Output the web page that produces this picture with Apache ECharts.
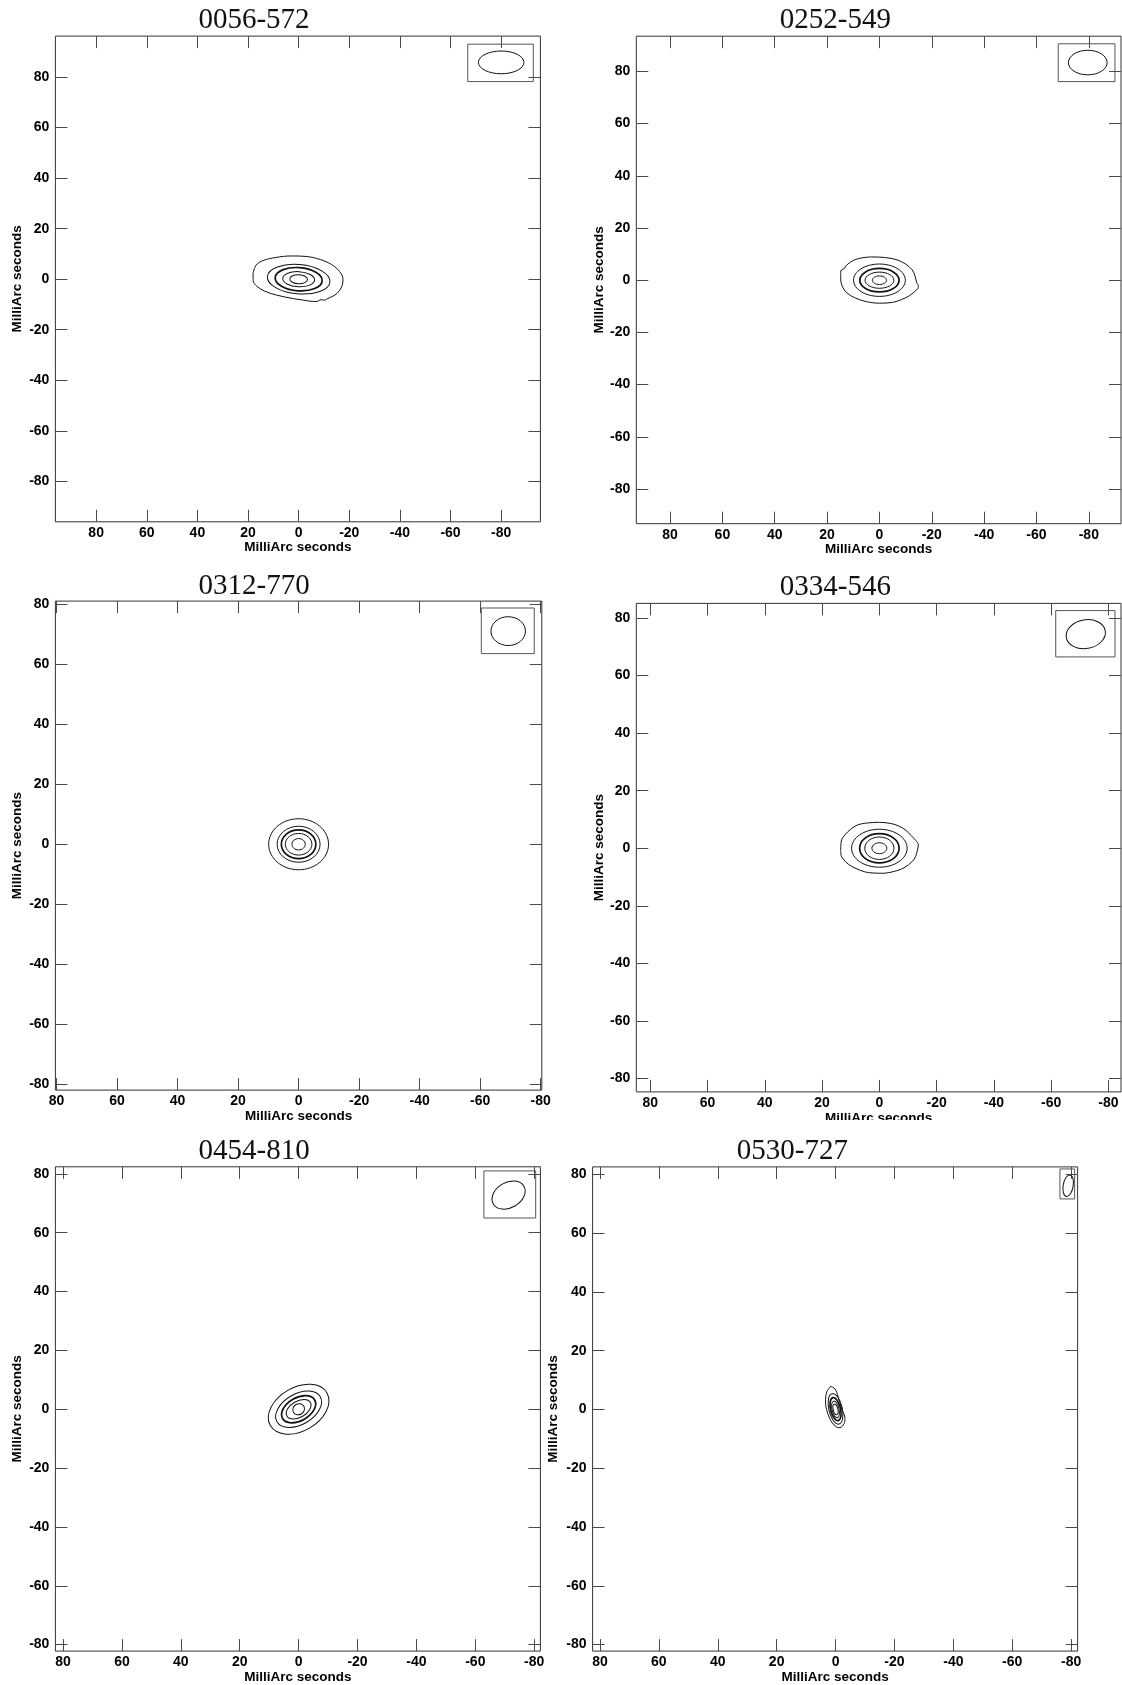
<!DOCTYPE html>
<html>
<head>
<meta charset="utf-8">
<script src="https://cdn.jsdelivr.net/npm/echarts@6/dist/echarts.min.js"></script>
<style>
  html, body { margin: 0; padding: 0; background: #ffffff; }
  #chart { width: 1122px; height: 1685px; }
</style>
</head>
<body>
<div id="chart"></div>
<script>
// Source names, one per map panel
const sources = ['0056-572', '0252-549', '0312-770', '0334-546', '0454-810', '0530-727'];

// Tick positions on both axes (milliarcseconds)
const tickValues = [-80, -60, -40, -20, 0, 20, 40, 60, 80];

// Visible map extent per panel: [xmin, xmax, ymin, ymax] (mas)
const extents = [
  [-95.5, 96.1, -96.0, 96.2],
  [-92.3, 92.9, -93.3, 93.5],
  [-80.4, 80.4, -81.9, 81.0],
  [-84.4, 84.9, -84.7, 85.1],
  [-82.1, 82.6, -82.2, 82.4],
  [-82.2, 82.5, -82.2, 82.5]
];

// Elliptical contours: [level, x0, y0, semi-major, semi-minor, PA(deg)]
const contours0056 = [
  [2, 0, 0, 12.4, 5.8, 85],
  [3, 0, 0, 9.3, 4.6, 86],
  [4, 0, 0, 6.3, 3.0, 87],
  [5, 0, 0, 3.5, 1.8, 88]
];
const contours0252 = [
  [2, 0, 0, 9.9, 6.2, 90],
  [3, 0, 0, 7.5, 4.5, 90],
  [4, 0, 0, 5.5, 3.1, 90],
  [5, 0, 0, 2.7, 1.65, 90]
];
const contours0312 = [
  [1, 0, 0, 9.9, 8.5, 90],
  [2, 0, 0, 7.1, 6.0, 90],
  [3, 0, 0, 5.7, 4.8, 90],
  [4, 0, 0, 4.4, 3.6, 90],
  [5, 0, 0, 2.2, 1.9, 90]
];
const contours0334 = [
  [2, 0, 0, 9.7, 6.6, 90],
  [3, 0, 0, 6.9, 5.1, 90],
  [4, 0, 0, 5.1, 3.9, 90],
  [5, 0, 0, 2.6, 1.9, 90]
];
const contours0454 = [
  [1, 0, 0, 11.1, 7.4, 120],
  [2, 0, 0, 8.5, 5.2, 120],
  [3, 0, 0, 6.3, 3.9, 120],
  [4, 0, 0, 4.6, 2.75, 120],
  [5, 0, 0, 2.05, 1.85, 120]
];
const contours0530 = [
  [2, 0, 0.2, 5.3, 2.3, 13],
  [3, 0, 0.1, 4.0, 1.7, 13],
  [4, 0, 0, 2.9, 1.2, 13],
  [5, 0, 0, 1.8, 0.8, 13]
];

// Irregular lowest contours traced as closed outlines: [x, y] (mas)
const outline0056 = [
  [18, 2.4], [16.8, 5.6], [14, 7.4], [9, 8.6], [3, 9.2], [-3, 9.0], [-8.5, 7.8],
  [-13, 5.8], [-16.2, 3], [-17.5, 0], [-17, -3], [-15.2, -5.6], [-13.2, -6.9],
  [-11.6, -7.6], [-10.2, -8.3], [-8.8, -8.1], [-7.2, -8.8], [-4.5, -8.7], [-1.5, -8.2],
  [2, -7.7], [8.7, -6.3], [13.5, -4.7], [16.5, -2.8], [18, -0.5], [18, 2.4]
];
const outline0252 = [
  [14.8, 2.5], [14.6, 3.9], [13.6, 4.3], [12.5, 5.8], [10.5, 7.3], [8, 8.3], [3, 8.9],
  [-2, 8.7], [-6.7, 7.8], [-10, 6.2], [-12.5, 4], [-13.6, 1.6], [-14.2, -0.8],
  [-14.9, -2.3], [-14.6, -3.3], [-13.4, -4.4], [-11.5, -5.9], [-8.5, -7.4], [-5, -8.5],
  [0, -8.8], [5, -8.2], [9.5, -6.7], [12.5, -4.8], [14.1, -2.5], [14.8, 0.5], [14.8, 2.5]
];
const outline0334 = [
  [13.5, -0.6], [13.3, 2.5], [12, 4.7], [10, 6.6], [7.6, 8.1], [4, 8.8], [0, 9.0],
  [-4, 8.6], [-6.8, 7.7], [-9.3, 6.2], [-11.1, 4.4], [-12.8, 2.6], [-13.6, 1.2],
  [-13.4, -0.3], [-13.1, -1.4], [-12.7, -2.8], [-11.5, -4.6], [-8.6, -6.8], [-5, -8.1],
  [-1.1, -8.7], [2.5, -8.6], [5.1, -8.2], [8.5, -6.9], [10.8, -5.6], [12.6, -3.8],
  [13.3, -2.7], [13.5, -0.6]
];
const outline0530 = [
  [1.7, 7.8], [3.0, 5.9], [3.4, 2.5], [2.8, -0.9], [1.3, -4.3], [-0.4, -6],
  [-1.5, -6.2], [-2.9, -4.8], [-3.2, -3.1], [-2.1, 0.2], [-0.9, 4.2], [0.2, 7.0], [1.7, 7.8]
];

// Restoring beams: [x0, y0, semi-major, semi-minor, PA(deg)]
const beams = [
  [-80.0, 85.8, 9.0, 4.5, 90],
  [-79.6, 83.4, 7.4, 4.7, 90],
  [-69.3, 71.0, 5.7, 4.8, 90],
  [-72.1, 74.4, 6.9, 5.0, 100],
  [-71.3, 72.8, 6.0, 4.3, 120],
  [-79.0, 76.1, 3.7, 1.7, 170]
];
// Frames drawn round the beams: [x1, y1, x2, y2]
const beamBoxes = [
  [-66.8, 93.0, -92.7, 78.2],
  [-68.3, 90.6, -90.0, 76.1],
  [-60.4, 78.7, -77.9, 63.5],
  [-61.6, 82.6, -82.3, 66.5],
  [-62.9, 81.0, -80.5, 65.0],
  [-76.2, 81.8, -81.2, 71.6]
];

const contourSets = [contours0056, contours0252, contours0312, contours0334, contours0454, contours0530];
const outlineSets = [outline0056, outline0252, null, outline0334, null, outline0530];

// Panel layout in page pixels
const panels = [
  { left: 55.4, top: 36.1, width: 485, height: 485.7, titleX: 254, titleY: 6, yNameGap: 31 },
  { left: 636.3, top: 36.2, width: 484.7, height: 487.5, titleX: 835.3, titleY: 6, yNameGap: 30 },
  { left: 55.4, top: 601.1, width: 486.4, height: 489, titleX: 254.1, titleY: 571.5, yNameGap: 31 },
  { left: 636.3, top: 603.4, width: 484.7, height: 488.5, titleX: 835.3, titleY: 573.3, yNameGap: 30 },
  { left: 55.4, top: 1166.8, width: 485, height: 485, titleX: 254.1, titleY: 1136.5, yNameGap: 31 },
  { left: 592.6, top: 1166.9, width: 485, height: 486.8, titleX: 792.4, titleY: 1136.6, yNameGap: 32 }
];

const FRAME = '#333333';
const TICK = '#4a4a4a';
const INK = '#111111';
const LABEL_FONT = '"Liberation Sans", Arial, Helvetica, sans-serif';

function ellipseRenderer(isBeam) {
  return function (params, api) {
    const o = isBeam ? 0 : 1;
    const c = api.coord([api.value(o), api.value(o + 1)]);
    const rx = api.size([api.value(o + 2), 0])[0];
    const ry = api.size([0, api.value(o + 3)])[1];
    const rot = (api.value(o + 4) - 90) * Math.PI / 180;
    const thick = !isBeam && api.value(0) === 3;
    return {
      type: 'ellipse',
      x: c[0], y: c[1], rotation: rot,
      shape: { cx: 0, cy: 0, rx: rx, ry: ry },
      style: { fill: 'none', stroke: INK, lineWidth: thick ? 1.7 : 1 }
    };
  };
}

function boxRenderer(params, api) {
  const p1 = api.coord([api.value(0), api.value(1)]);
  const p2 = api.coord([api.value(2), api.value(3)]);
  return {
    type: 'rect',
    shape: {
      x: Math.min(p1[0], p2[0]), y: Math.min(p1[1], p2[1]),
      width: Math.abs(p2[0] - p1[0]), height: Math.abs(p2[1] - p1[1])
    },
    style: { fill: 'none', stroke: '#555555', lineWidth: 1 }
  };
}

const grid = [], xAxis = [], yAxis = [], series = [], title = [];

panels.forEach(function (p, i) {
  const e = extents[i];
  grid.push({
    left: p.left, top: p.top, width: p.width, height: p.height,
    show: true, borderColor: FRAME, borderWidth: 1, backgroundColor: 'transparent'
  });

  const line = { show: false, onZero: false };
  const tick = { show: true, inside: true, length: 12, customValues: tickValues,
                 lineStyle: { color: TICK, width: 1 } };
  const xLabel = { show: true, customValues: tickValues, margin: 4, color: '#000000',
                   fontFamily: LABEL_FONT, fontWeight: 'bold', fontSize: 14 };
  const yLabel = { show: true, customValues: tickValues, margin: 6, color: '#000000',
                   fontFamily: LABEL_FONT, fontWeight: 'bold', fontSize: 14 };
  const nameStyle = { color: '#000000', fontFamily: LABEL_FONT, fontWeight: 'bold', fontSize: 13.5 };

  // bottom axis (labelled) and top axis (ticks only); east is to the left
  xAxis.push({
    gridIndex: i, type: 'value', inverse: true, min: e[0], max: e[1], position: 'bottom',
    axisLine: line, axisTick: tick, axisLabel: xLabel, splitLine: { show: false },
    name: 'MilliArc seconds', nameLocation: 'middle', nameGap: 17, nameTextStyle: nameStyle
  });
  xAxis.push({
    gridIndex: i, type: 'value', inverse: true, min: e[0], max: e[1], position: 'top',
    axisLine: line, axisTick: tick, axisLabel: { show: false }, splitLine: { show: false }
  });
  yAxis.push({
    gridIndex: i, type: 'value', min: e[2], max: e[3], position: 'left',
    axisLine: line, axisTick: tick, axisLabel: yLabel, splitLine: { show: false },
    name: 'MilliArc seconds', nameLocation: 'middle', nameGap: p.yNameGap, nameTextStyle: nameStyle
  });
  yAxis.push({
    gridIndex: i, type: 'value', min: e[2], max: e[3], position: 'right',
    axisLine: line, axisTick: tick, axisLabel: { show: false }, splitLine: { show: false }
  });

  const xi = 2 * i, yi = 2 * i;

  series.push({
    type: 'custom', name: sources[i] + ' contours', xAxisIndex: xi, yAxisIndex: yi,
    renderItem: ellipseRenderer(false), encode: { x: 1, y: 2 },
    data: contourSets[i], silent: true, clip: true
  });
  if (outlineSets[i]) {
    series.push({
      type: 'line', name: sources[i] + ' lowest contour', xAxisIndex: xi, yAxisIndex: yi,
      data: outlineSets[i], smooth: 0.35, showSymbol: false, symbol: 'none',
      lineStyle: { color: INK, width: 1 }, silent: true, animation: false
    });
  }
  series.push({
    type: 'custom', name: sources[i] + ' beam', xAxisIndex: xi, yAxisIndex: yi,
    renderItem: ellipseRenderer(true), encode: { x: 0, y: 1 },
    data: [beams[i]], silent: true, clip: false
  });
  series.push({
    type: 'custom', name: sources[i] + ' beam frame', xAxisIndex: xi, yAxisIndex: yi,
    renderItem: boxRenderer, encode: { x: [0, 2], y: [1, 3] },
    data: [beamBoxes[i]], silent: true, clip: false
  });

  title.push({
    text: sources[i], left: p.titleX, top: p.titleY, textAlign: 'center', padding: 0,
    textStyle: { fontFamily: '"Liberation Serif", "DejaVu Serif", serif', fontWeight: 'normal',
                 fontSize: 29, color: '#111111' }
  });
});

const chart = echarts.init(document.getElementById('chart'), null, { renderer: 'canvas' });
chart.setOption({
  backgroundColor: '#ffffff',
  animation: false,
  title: title,
  grid: grid,
  xAxis: xAxis,
  yAxis: yAxis,
  series: series,
  graphic: [{
    // the fourth map's lower margin is cropped just below its axis title
    type: 'rect', z: 100, silent: true,
    shape: { x: 560, y: 1120, width: 562, height: 8 },
    style: { fill: '#ffffff' }
  }]
});
</script>
</body>
</html>
